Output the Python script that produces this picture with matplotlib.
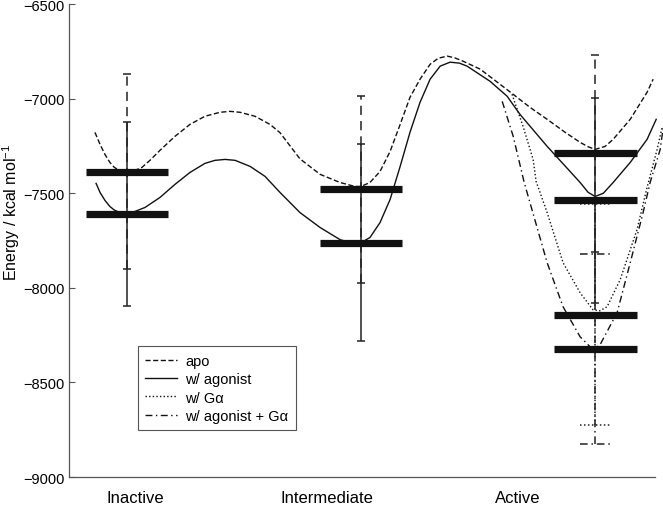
import matplotlib
matplotlib.use('Agg')
import matplotlib.pyplot as plt

plt.rcParams['font.family'] = ['Liberation Sans', 'DejaVu Sans']
plt.rcParams['mathtext.default'] = 'regular'

# states and where their labels sit on the x axis
states = ['Inactive', 'Intermediate', 'Active']
state_x = [1, 2, 3]
label_x = [1.034, 1.855, 2.67]

# energy levels (kcal/mol) and error half-widths
apo_level = [-7385, -7480, -7289]
apo_err = [514, 493, 519]
agonist_level = [-7610, -7761, -7538]
agonist_err = [487, 520, 543]
ga_level = [-8142]
ga_err = [583]
agonist_ga_level = [-8322]
agonist_ga_err = [503]

# energy landscape curves
apo_x = [0.863, 0.885, 0.906, 0.927, 0.945, 0.962, 0.980, 1.000, 1.018, 1.034,
         1.064, 1.098, 1.141, 1.205, 1.269, 1.333, 1.397, 1.440, 1.483, 1.547,
         1.611, 1.654, 1.700, 1.739, 1.825, 1.910, 1.974, 2.000, 2.038, 2.081,
         2.124, 2.167, 2.209, 2.252, 2.295, 2.330, 2.368, 2.400, 2.436, 2.509,
         2.594, 2.650, 2.722, 2.795, 2.872, 2.936, 2.970, 3.000, 3.043, 3.077,
         3.150, 3.222, 3.248]
apo_E = [-7178, -7242, -7295, -7337, -7362, -7376, -7384, -7386, -7384, -7379,
         -7363, -7326, -7273, -7199, -7136, -7093, -7072, -7067, -7072, -7093,
         -7136, -7180, -7255, -7318, -7400, -7443, -7464, -7464, -7443, -7385,
         -7279, -7136, -6993, -6897, -6818, -6786, -6775, -6784, -6802, -6844,
         -6924, -6977, -7046, -7109, -7178, -7231, -7254, -7268, -7252, -7215,
         -7109, -6966, -6897]

agonist_x = [0.868, 0.885, 0.906, 0.927, 0.945, 0.962, 0.980, 1.000, 1.018, 1.034,
             1.077, 1.141, 1.205, 1.269, 1.333, 1.376, 1.419, 1.462, 1.526, 1.590,
             1.654, 1.739, 1.825, 1.910, 1.953, 2.000, 2.038, 2.081, 2.124, 2.167,
             2.209, 2.252, 2.295, 2.338, 2.380, 2.420, 2.453, 2.551, 2.624, 2.679,
             2.795, 2.936, 2.970, 3.000, 3.035, 3.077, 3.150, 3.222, 3.261]
agonist_E = [-7448, -7496, -7538, -7570, -7588, -7598, -7603, -7604, -7601, -7596,
             -7575, -7522, -7453, -7390, -7342, -7326, -7321, -7326, -7358, -7411,
             -7496, -7602, -7681, -7745, -7761, -7761, -7734, -7655, -7533, -7358,
             -7178, -7019, -6897, -6828, -6807, -6812, -6828, -6908, -6987, -7083,
             -7252, -7443, -7495, -7517, -7500, -7443, -7337, -7215, -7109]

ga_x = [2.645, 2.692, 2.735, 2.748, 2.795, 2.863, 2.936, 2.991, 3.021, 3.051,
        3.107, 3.179, 3.222, 3.265, 3.286]
ga_E = [-6977, -7146, -7321, -7438, -7602, -7867, -8026, -8116, -8121, -8100,
        -7957, -7692, -7469, -7268, -7152]

agonist_ga_x = [2.603, 2.650, 2.697, 2.795, 2.863, 2.936, 2.979, 3.000, 3.021,
                3.094, 3.150, 3.205, 3.235, 3.278, 3.291]
agonist_ga_E = [-7014, -7199, -7443, -7867, -8100, -8259, -8312, -8317, -8301,
                -8131, -7867, -7602, -7443, -7268, -7152]

DASH = (0, (3.7, 1.8))
DOT = (0, (1, 1.6))
DASHDOT = (0, (5, 2.5, 1, 2.5))

fig = plt.figure(figsize=(6.63, 5.10), dpi=100)
ax = fig.add_axes([0.104, 0.0627, 0.884, 0.9273])

lw = 1.0
ax.plot(apo_x, apo_E, color='#111111', lw=lw, ls=DASH, label='apo', clip_on=False)
ax.plot(agonist_x, agonist_E, color='#111111', lw=lw, ls='-', label='w/ agonist', clip_on=False)
ax.plot(ga_x, ga_E, color='#111111', lw=lw, ls=DOT, label='w/ G\u03b1', clip_on=False)
ax.plot(agonist_ga_x, agonist_ga_E, color='#111111', lw=lw, ls=DASHDOT,
        label='w/ agonist + G\u03b1', clip_on=False)


def err(xs, levels, errs, ls, cap):
    for x, c, e in zip(xs, levels, errs):
        ax.vlines(x, c - e, c + e, color='#222222', lw=1.1, linestyles=[ls])
        ax.hlines([c - e, c + e], x - cap, x + cap, color='#222222', lw=1.1, linestyles=[ls])


err(state_x, apo_level, apo_err, (0, (6, 4)), 0.016)
err(state_x, agonist_level, agonist_err, '-', 0.016)
err(state_x[2:], ga_level, ga_err, DOT, 0.064)
err(state_x[2:], agonist_ga_level, agonist_ga_err, DASHDOT, 0.064)

bar_half = 0.177
for lev in (apo_level, agonist_level):
    for x, c in zip(state_x, lev):
        ax.hlines(c, x - bar_half, x + bar_half, color='#111111', lw=5.2)
for lev in (ga_level, agonist_ga_level):
    for c in lev:
        ax.hlines(c, state_x[2] - bar_half, state_x[2] + bar_half, color='#111111', lw=5.2)

ax.set_xlim(0.752, 3.256)
ax.set_ylim(-9000, -6500)
ax.set_yticks(range(-9000, -6499, 500))
ax.set_xticks(label_x)
ax.set_xticklabels(states, fontsize=12)

for s in ('top', 'right'):
    ax.spines[s].set_visible(False)
for s in ('left', 'bottom'):
    ax.spines[s].set_color('#555555')
    ax.spines[s].set_linewidth(0.9)

ax.tick_params(axis='y', direction='in', length=4, width=0.8, color='#555555',
               labelsize=10.5, pad=3)
ax.tick_params(axis='x', length=0, pad=9)

ax.set_ylabel('Energy / kcal mol$^{-1}$', fontsize=11.5)
ax.yaxis.set_label_coords(-0.080, 0.562)

leg = ax.legend(loc='lower left', bbox_to_anchor=(0.118, 0.099), fontsize=10.5,
                frameon=True, fancybox=False, edgecolor='#555555', framealpha=1,
                handlelength=2.2, handletextpad=0.55, labelspacing=0.3,
                borderpad=0.5, borderaxespad=0)
leg.get_frame().set_linewidth(0.8)

fig.savefig('out.png', dpi=100)
